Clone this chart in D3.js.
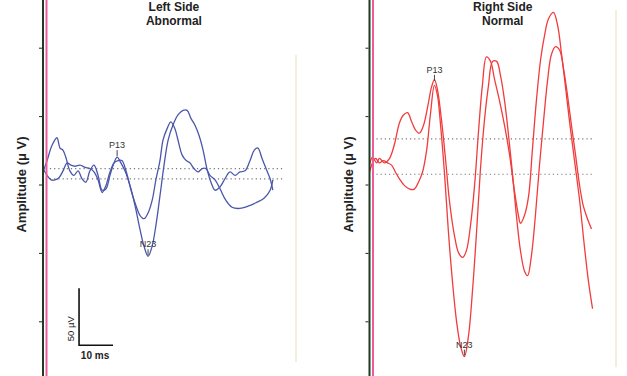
<!DOCTYPE html>
<html>
<head>
<meta charset="utf-8">
<script src="https://cdn.jsdelivr.net/npm/d3@7/dist/d3.min.js"></script>
<style>
  body { margin: 0; background: #fff; }
  text { font-family: "Liberation Sans", Arial, sans-serif; }
</style>
</head>
<body>
<div id="container"></div>
<script>
// Data: time (ms), amplitude (µV)
let leftA_t = [0, 1.2, 2.4, 3.5, 4.7, 5.9, 7.1, 8.2, 9.4, 10.9, 12.4, 13.8, 15.0, 16.2, 17.4, 18.5, 19.7, 20.9, 22.1, 23.2, 24.4, 25.9, 27.4, 28.5, 29.7, 30.9, 32.1, 33.2, 34.4, 35.3, 36.5, 37.6, 38.8, 39.7, 40.9, 42.1, 43.2, 44.4, 45.6, 46.8, 47.9, 49.1, 50.6, 52.1, 53.8, 55.6, 57.9, 60.3, 62.6, 65.0, 66.8, 67.6];
let leftA_v = [14, 8, 4, 4, 6, 12, 19, 17, 16, 17, 15, 14, 11, 4, -7, -1, 11, 19, 21, 21, 12, -5, -19, -27, -30, -25, -14, 4, 21, 39, 49, 55, 49, 39, 26, 21, 19, 14, 11, 14, 14, 8, 4, -4, -14, -20, -21, -19, -16, -12, -5, 4];

let leftB_t = [0, 1.2, 2.6, 4.1, 5.0, 5.9, 6.8, 7.9, 9.1, 10.3, 11.5, 12.6, 13.8, 15.0, 16.2, 17.4, 18.5, 19.7, 20.9, 21.8, 22.9, 24.1, 25.6, 27.1, 28.5, 29.7, 30.9, 32.1, 33.2, 34.4, 35.6, 36.8, 38.2, 39.7, 41.2, 42.4, 43.5, 44.7, 45.9, 47.1, 48.2, 49.4, 50.6, 52.1, 53.5, 55.0, 56.5, 57.9, 59.4, 60.9, 62.1, 63.2, 64.4, 65.6, 66.8, 67.6];
let leftB_v = [11, 21, 34, 41, 32, 30, 23, 12, 8, 12, 5, 2, 12, 17, 8, -5, -4, 8, 19, 24, 19, 12, -1, -19, -39, -54, -63, -54, -36, -10, 17, 39, 52, 61, 65, 65, 58, 52, 43, 30, 14, 2, -5, -2, 5, 11, 8, 11, 12, 21, 30, 32, 23, 14, 5, -5];

let rightA_t = [0, 0.9, 2.1, 2.9, 4.4, 5.9, 7.4, 8.8, 10.0, 11.2, 12.4, 13.5, 14.7, 15.9, 17.1, 18.2, 19.1, 20.0, 21.2, 22.4, 23.5, 25.0, 26.2, 27.4, 28.5, 29.7, 30.9, 32.1, 33.2, 34.4, 35.6, 36.8, 38.2, 39.7, 41.2, 42.6, 43.8, 44.4, 45.6, 46.8, 47.9, 49.1, 50.3, 51.5, 52.6, 54.1, 55.3, 56.5, 57.6, 58.8, 60.3, 61.8, 63.2, 64.4, 65.6];
let rightA_v = [17, 24, 19, 23, 19, 23, 36, 54, 61, 63, 55, 48, 45, 52, 68, 85, 92, 83, 56, 21, -14, -45, -60, -64, -58, -36, -1, 48, 87, 112, 108, 92, 74, 52, 26, -5, -27, -34, -27, -10, 30, 74, 109, 131, 145, 151, 140, 114, 87, 56, 21, -14, -54, -85, -109];

let rightB_t = [0, 0.9, 1.8, 2.9, 4.1, 5.3, 6.5, 7.6, 8.8, 10.3, 11.8, 13.2, 14.4, 15.6, 16.8, 17.9, 19.1, 20.0, 20.9, 22.1, 23.2, 24.4, 25.6, 26.8, 27.9, 29.1, 30.3, 31.5, 32.6, 33.8, 35.0, 36.2, 37.4, 38.5, 39.7, 40.9, 42.1, 43.2, 44.4, 45.6, 46.5, 47.6, 48.8, 50.0, 51.2, 52.4, 53.5, 54.7, 55.9, 57.1, 58.2, 59.4, 60.6, 61.8, 62.9, 64.1, 65.3];
let rightB_v = [11, 19, 23, 19, 21, 19, 17, 11, 5, -1, -4, -4, 2, 11, 30, 61, 87, 78, 52, 8, -41, -85, -120, -142, -151, -133, -93, -41, 12, 56, 87, 108, 108, 96, 74, 43, 8, -27, -58, -76, -80, -63, -27, 17, 56, 92, 114, 121, 118, 101, 79, 52, 26, -1, -19, -30, -39];

// Dotted reference levels (µV)
let leftRefs = [14, 5];
let rightRefs = [40, 9];

// Peak labels
let leftPeaks = [{ name: "P13", t: 21.8, v: 24 }, { name: "N23", t: 30.9, v: -63 }];
let rightPeaks = [{ name: "P13", t: 19.1, v: 90 }, { name: "N23", t: 27.9, v: -151 }];

let yTicks = [-120, -60, 0, 60, 120];

let W = 627, H = 376;
let svg = d3.select("#container").append("svg")
  .attr("width", W).attr("height", H);

let y = d3.scaleLinear().domain([-120, 120]).range([321.3, 47.7]);

function panel(opt) {
  let x = d3.scaleLinear().domain([0, 70]).range([opt.x0, opt.x0 + 238]);
  let g = svg.append("g");

  // faint right border
  g.append("line")
    .attr("x1", opt.border).attr("x2", opt.border)
    .attr("y1", opt.borderTop).attr("y2", opt.borderBottom)
    .style("stroke", "#eee9d6").style("stroke-width", 1.5);

  // dotted reference lines
  g.selectAll(".ref").data(opt.refs).enter().append("line")
    .attr("x1", x(0.8)).attr("x2", x(opt.refEnd))
    .attr("y1", (d) => y(d)).attr("y2", (d) => y(d))
    .style("stroke", "#777").style("stroke-width", 1.2)
    .style("stroke-dasharray", "1.2,3");

  // traces
  let line = d3.line().x((d) => x(d[0])).y((d) => y(d[1])).curve(d3.curveCatmullRom.alpha(0.5));
  opt.traces.forEach((tr) => {
    g.append("path")
      .datum(d3.zip(tr[0], tr[1]))
      .attr("d", line)
      .style("fill", "none")
      .style("stroke", opt.color)
      .style("stroke-width", 1.3)
      .style("stroke-linejoin", "round");
  });

  // peak markers
  opt.peaks.forEach((p) => {
    let px = x(p.t), py = y(p.v);
    g.append("line")
      .attr("x1", px).attr("x2", px).attr("y1", py - 1).attr("y2", py - 7)
      .style("stroke", "#444").style("stroke-width", 1);
    g.append("text")
      .attr("x", px).attr("y", py - 9)
      .attr("text-anchor", "middle")
      .style("font-size", "9px").style("fill", "#333")
      .text(p.name);
  });

  // axis line, stimulus line
  g.append("line")
    .attr("x1", opt.x0).attr("x2", opt.x0).attr("y1", 0).attr("y2", H)
    .style("stroke", "#1f3a22").style("stroke-width", 2);
  g.append("line")
    .attr("x1", opt.x0 + 3.5).attr("x2", opt.x0 + 3.5).attr("y1", 0).attr("y2", H)
    .style("stroke", "#ee5a9c").style("stroke-width", 2);

  let ax = g.append("g")
    .attr("transform", `translate(${opt.x0 - 1},0)`)
    .call(d3.axisLeft(y).tickValues(yTicks).tickSize(3).tickFormat(""));
  ax.select(".domain").remove();
  ax.selectAll(".tick line").style("stroke", "#222");

  // y label
  g.append("text")
    .attr("transform", `translate(${opt.x0 - 17},${y(0)}) rotate(-90)`)
    .attr("text-anchor", "middle")
    .style("font-size", "13px").style("font-weight", "bold").style("fill", "#222")
    .text("Amplitude (\u03bc V)");

  // title
  let cx = x(opt.titleT);
  g.append("text").attr("x", cx).attr("y", 11)
    .attr("text-anchor", "middle")
    .style("font-size", "12px").style("font-weight", "bold").style("fill", "#222")
    .text(opt.title[0]);
  g.append("text").attr("x", cx).attr("y", 25)
    .attr("text-anchor", "middle")
    .style("font-size", "12px").style("font-weight", "bold").style("fill", "#222")
    .text(opt.title[1]);

  return x;
}

let xl = panel({
  x0: 43, border: 296, borderTop: 55, borderBottom: 362,
  refs: leftRefs, refEnd: 70.5, color: "#4b56aa",
  traces: [[leftA_t, leftA_v], [leftB_t, leftB_v]],
  peaks: leftPeaks, title: ["Left Side", "Abnormal"], titleT: 38.5
});

let xr = panel({
  x0: 369.5, border: 616, borderTop: 10, borderBottom: 367,
  refs: rightRefs, refEnd: 65.8, color: "#f03c3c",
  traces: [[rightA_t, rightA_v], [rightB_t, rightB_v]],
  peaks: rightPeaks, title: ["Right Side", "Normal"], titleT: 39.2
});

// scale bar (left panel): 10 ms x 50 µV
let sb = { t0: 10.6, t1: 20.6, v0: -141, v1: -91 };
svg.append("path")
  .attr("d", `M${xl(sb.t0)},${y(sb.v1)}V${y(sb.v0)}H${xl(sb.t1)}`)
  .style("fill", "none").style("stroke", "#111").style("stroke-width", 1.6);
svg.append("text")
  .attr("transform", `translate(${xl(sb.t0) - 5},${y((sb.v0 + sb.v1) / 2) + 12}) rotate(-90)`)
  .attr("text-anchor", "middle")
  .style("font-size", "9.5px").style("fill", "#222")
  .text("50 \u00b5V");
svg.append("text")
  .attr("x", xl((sb.t0 + sb.t1) / 2) - 1).attr("y", y(sb.v0) + 14)
  .attr("text-anchor", "middle")
  .style("font-size", "10px").style("font-weight", "bold").style("fill", "#222")
  .text("10 ms");
</script>
</body>
</html>
